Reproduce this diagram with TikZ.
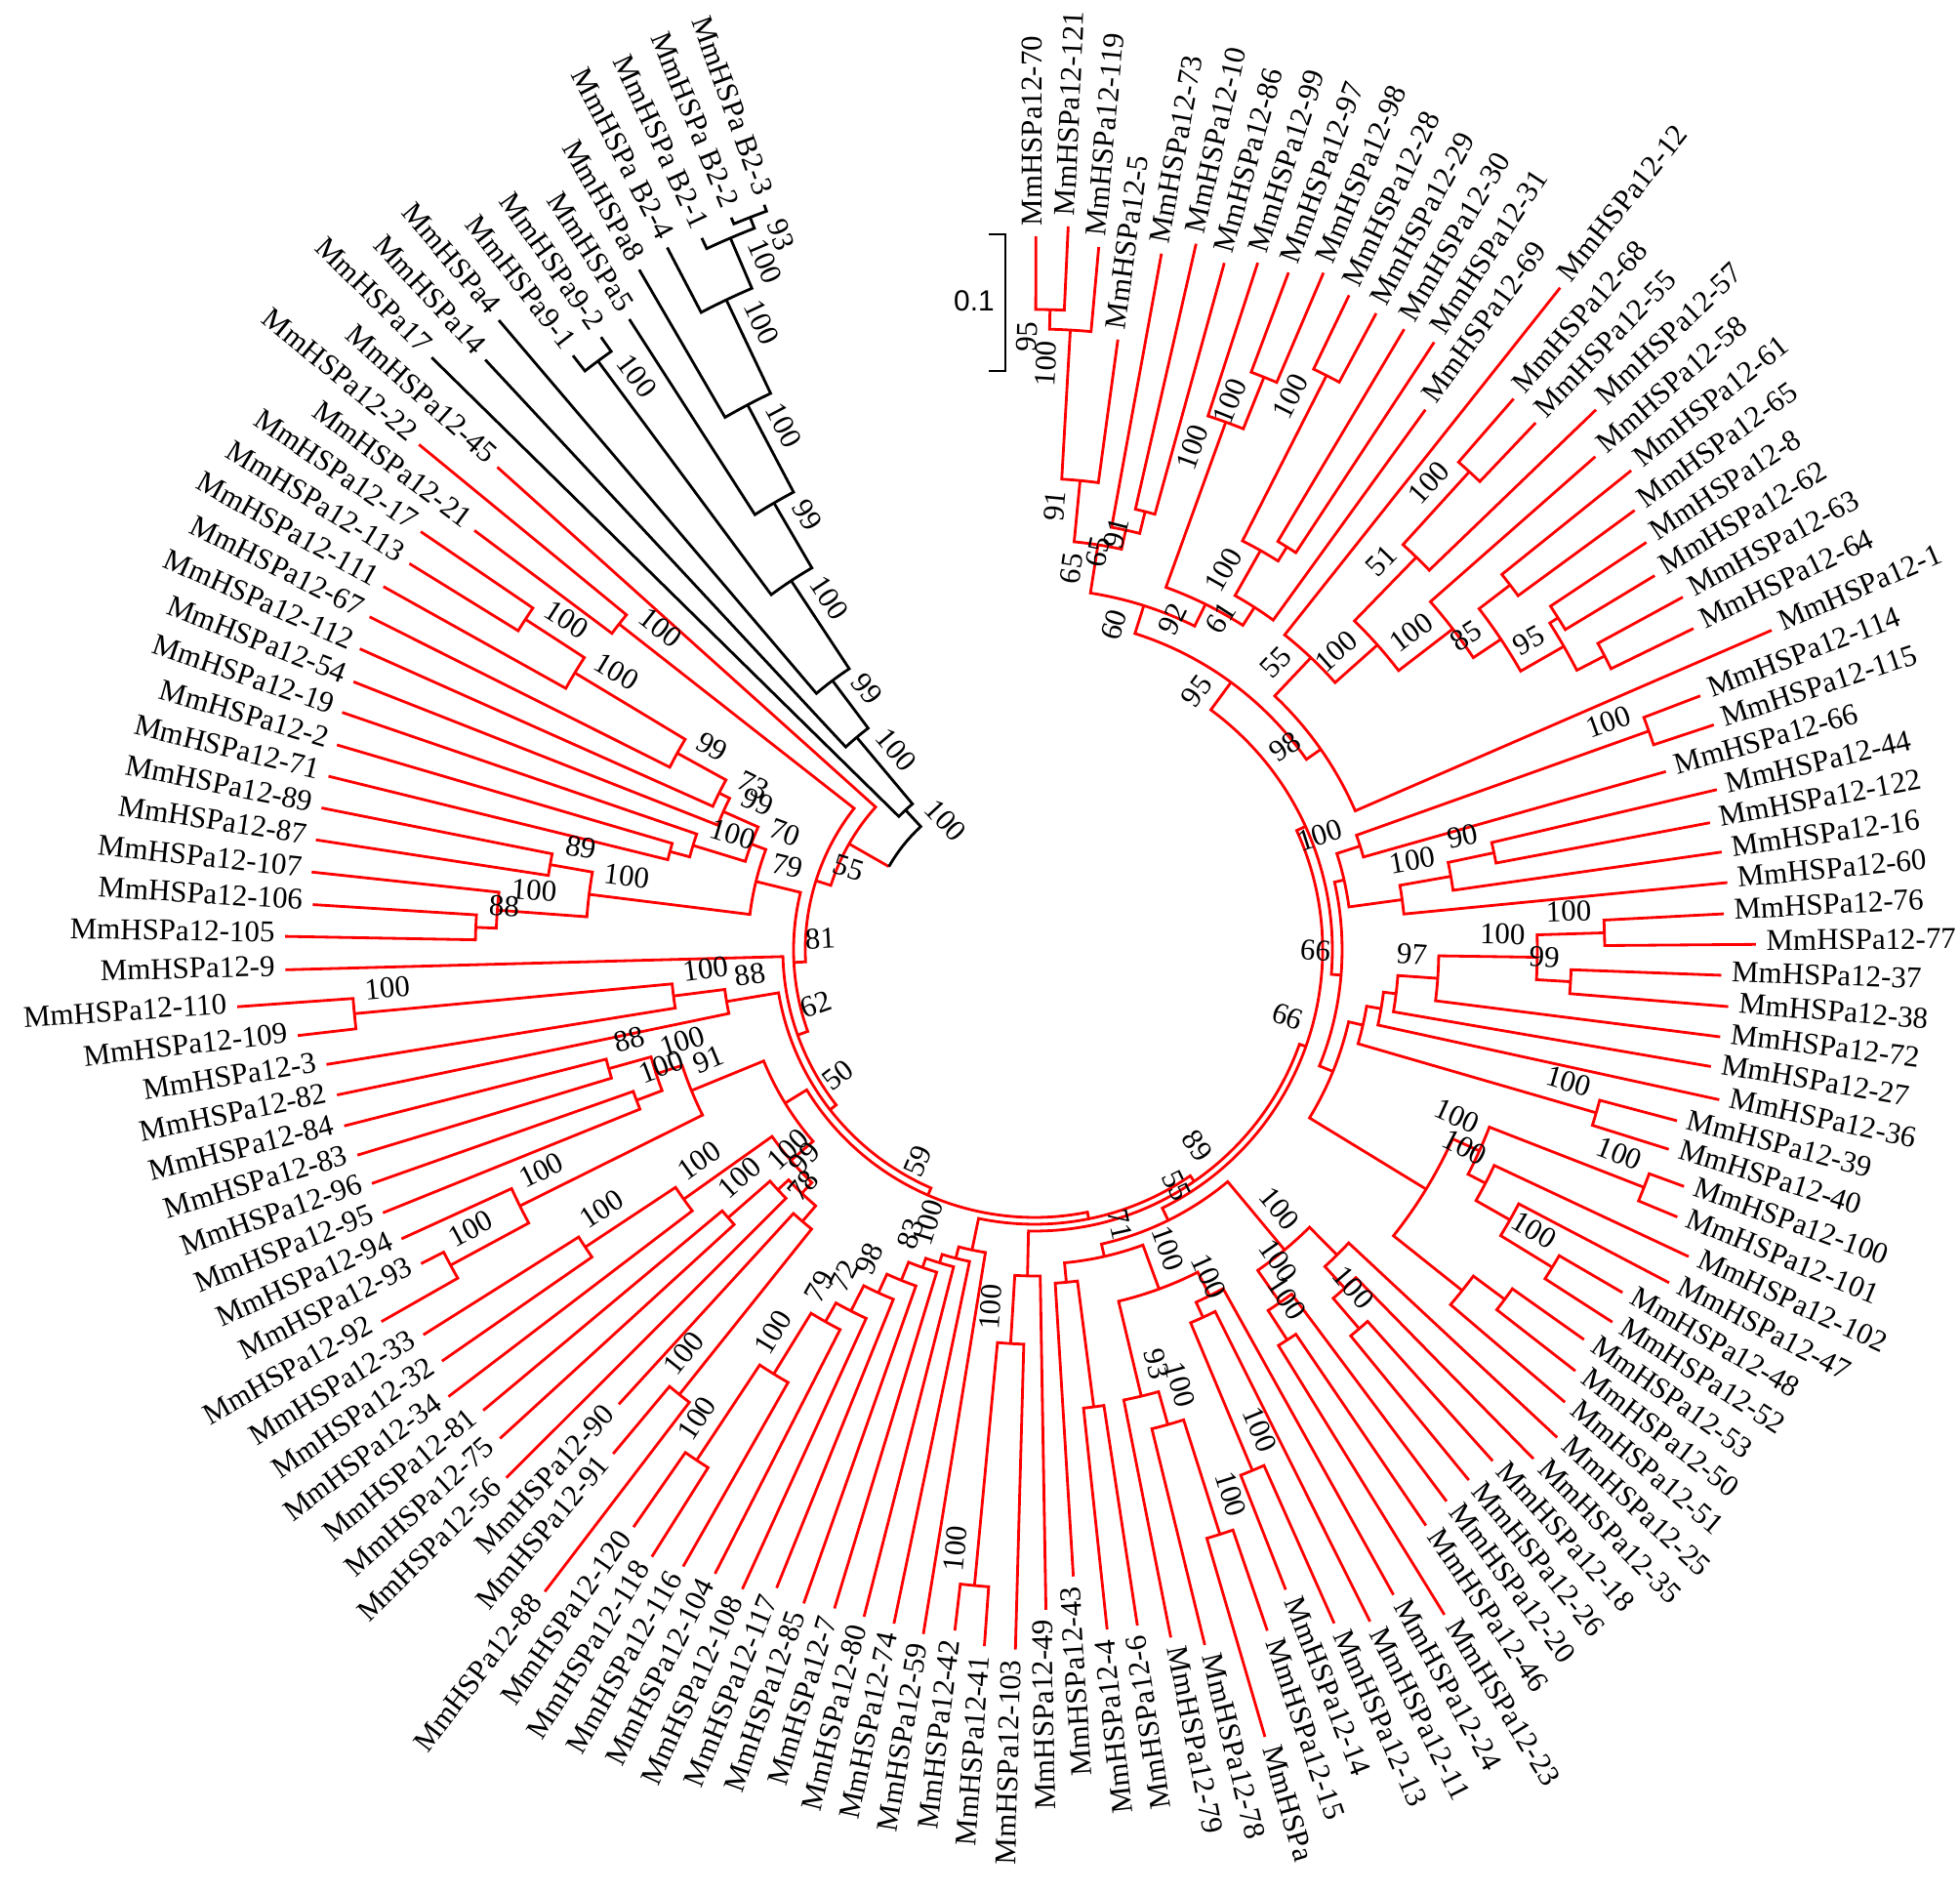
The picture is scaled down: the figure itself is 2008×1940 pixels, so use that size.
\documentclass[tikz,border=0pt]{standalone}
\usepackage{fontspec}
\setmainfont{Liberation Serif}
\newfontfamily\sbfont{Liberation Sans}
\def\stp{2.556}
\def\curA{89.9}
\def\brcol{red}
\newcommand\tleaf[3]{%
  \expandafter\xdef\csname A@#1\endcsname{\curA}%
  \expandafter\xdef\csname R@#1\endcsname{#2}%
  \coordinate (#1) at (\curA:#2);
  \pgfmathsetmacro\tzR{#2+10}%
  \ifdim\curA pt>-80pt
    \pgfmathsetmacro\tzP{\curA-90}%
    \path (\curA:\tzR) ++(\tzP:6) node[lbl,anchor=base west,rotate=\curA] (#1t) {#3};
  \else
    \pgfmathsetmacro\tzP{\curA+90}\pgfmathsetmacro\tzT{\curA+180}%
    \path (\curA:\tzR) ++(\tzP:6) node[lbl,anchor=base east,rotate=\tzT] (#1t) {#3};
  \fi
  \pgfmathsetmacro\curA{\curA-\stp}%
}
\newcommand\tlm[2]{\tleaf{L#1}{#2}{MmHSPa12-#1}}
\newcommand\tnode[4]{%
  \edef\tzA{\csname A@#3\endcsname}\edef\tzB{\csname A@#4\endcsname}%
  \pgfmathsetmacro\tzM{(\tzA+\tzB)/2}%
  \expandafter\xdef\csname A@#1\endcsname{\tzM}%
  \expandafter\xdef\csname R@#1\endcsname{#2}%
  \coordinate (#1) at (\tzM:#2);
  \draw[br,draw=\brcol] (#3) -- (\tzA:#2) arc[start angle=\tzA,end angle=\tzB,radius=#2] -- (#4);
}
\newcommand\tboot[2]{%
  \edef\tzA{\csname A@#1\endcsname}\edef\tzR{\csname R@#1\endcsname}%
  \pgfmathsetmacro\tzQ{\tzR-12}%
  \ifdim\tzA pt>-90pt
    \pgfmathsetmacro\tzP{\tzA+90}%
    \path (\tzA:\tzQ) ++(\tzP:12) node[bsl,anchor=south east,rotate=\tzA] (bs-#1) {#2};
  \else
    \pgfmathsetmacro\tzP{\tzA-90}\pgfmathsetmacro\tzT{\tzA+180}%
    \path (\tzA:\tzQ) ++(\tzP:12) node[bsl,anchor=south west,rotate=\tzT] (bs-#1) {#2};
  \fi}
\begin{document}
\begin{tikzpicture}[x=0.01cm,y=0.01cm,
  br/.style={line width=0.8pt},
  lbl/.style={inner sep=0pt,font=\fontsize{8.8}{10}\selectfont},
  bsl/.style={inner sep=0pt,font=\fontsize{8.8}{10}\selectfont}]
\useasboundingbox (-1060,-967) rectangle (948,973);
% ---------------- leaves (clockwise from top) ----------------
\tlm{70}{731}\tlm{121}{742}\tlm{119}{723}\tlm{5}{631}\tlm{73}{725}
\tlm{10}{742}\tlm{86}{730}\tlm{99}{740}\tlm{97}{741}\tlm{98}{754}
\tlm{28}{744}\tlm{29}{740}\tlm{30}{740}\tlm{31}{745}\tlm{69}{683}
\tlm{12}{866}\tlm{68}{748}\tlm{55}{745}\tlm{57}{798}\tlm{58}{765}
\tlm{61}{784}\tlm{65}{762}\tlm{8}{753}\tlm{62}{742}\tlm{63}{756}
\tlm{64}{751}\tlm{1}{823}\tlm{114}{730}\tlm{115}{733}\tlm{66}{672}
\tlm{44}{718}\tlm{122}{704}\tlm{16}{711}\tlm{60}{713}\tlm{76}{707}
\tlm{77}{739}\tlm{37}{704}\tlm{38}{713}\tlm{72}{708}\tlm{27}{703}
\tlm{36}{718}\tlm{39}{681}\tlm{40}{681}\tlm{100}{708}\tlm{101}{713}
\tlm{102}{740}\tlm{47}{734}\tlm{48}{697}\tlm{52}{704}\tlm{53}{690}
\tlm{50}{702}\tlm{51}{714}\tlm{25}{732}\tlm{35}{730}\tlm{18}{703}
\tlm{26}{702}\tlm{20}{705}\tlm{46}{713}\tlm{23}{800}\tlm{24}{756}
\tlm{11}{769}\tlm{13}{755}\tlm{14}{704}\tlm{15}{737}
\tleaf{LX}{840}{MmHSPa}
\tlm{78}{733}\tlm{79}{718}\tlm{6}{700}\tlm{4}{700}\tlm{43}{643}
\tlm{49}{676}\tlm{103}{717}\tlm{41}{715}\tlm{42}{702}\tlm{59}{710}
\tlm{74}{705}\tlm{80}{705}\tlm{7}{705}\tlm{85}{710}\tlm{117}{705}
\tlm{108}{720}\tlm{104}{718}\tlm{116}{727}\tlm{118}{735}\tlm{120}{720}
\tlm{88}{827}\tlm{91}{673}\tlm{90}{631}\tlm{56}{765}\tlm{75}{742}
\tlm{81}{736}\tlm{34}{755}\tlm{32}{739}\tlm{33}{740}\tlm{92}{770}
\tlm{93}{706}\tlm{94}{713}\tlm{95}{720}\tlm{96}{720}\tlm{83}{725}
\tlm{84}{730}\tlm{82}{730}\tlm{3}{735}\tlm{109}{760}\tlm{110}{819}
\tlm{9}{768}\tlm{105}{768}\tlm{106}{741}\tlm{107}{745}\tlm{87}{745}
\tlm{89}{745}\tlm{71}{745}\tlm{2}{745}\tlm{19}{750}\tlm{54}{750}
\tlm{112}{757}\tlm{67}{762}\tlm{111}{764}\tlm{113}{753}\tlm{17}{761}
\tlm{21}{717}\tlm{22}{816}\tlm{45}{740}
\tleaf{H17}{866}{MmHSPa17}
\tleaf{H14}{826}{MmHSPa14}
\tleaf{H4}{847}{MmHSPa4}
\tleaf{H91}{771}{MmHSPa9-1}
\tleaf{H92}{769}{MmHSPa9-2}
\tleaf{H5}{768}{MmHSPa5}
\tleaf{H8}{806}{MmHSPa8}
\tleaf{B4}{812}{MmHSPa B2-4}
\tleaf{B1}{805}{MmHSPa B2-1}
\tleaf{B2}{812}{MmHSPa B2-2}
\tleaf{B3}{812}{MmHSPa B2-3}
% ---------------- region A ----------------
\tnode{a1}{656}{L70}{L121}
\tnode{a2}{636}{a1}{L119}
\tnode{a3}{483}{a2}{L5}
\tnode{a4}{463}{L10}{L86}
\tnode{a5}{440}{L73}{a4}
\tnode{a6}{420}{a3}{a5}
\tnode{a7}{632}{L97}{L98}
\tnode{a8}{575}{L99}{a7}
\tnode{a9}{660}{L28}{L29}
\tnode{a10}{487}{L30}{L31}
\tnode{a11}{470}{a9}{a10}
\tnode{a12}{417}{a11}{L69}
\tnode{a13}{395}{a8}{a12}
\tnode{a14}{370}{a6}{a13}
% ---------------- region B ----------------
\tnode{b1}{662}{L68}{L55}
\tnode{b2}{561}{b1}{L57}
\tnode{b3}{614}{L61}{L65}
\tnode{b4}{635}{L8}{L62}
\tnode{b5}{657}{L63}{L64}
\tnode{b6}{625}{b4}{b5}
\tnode{b7}{574}{b3}{b6}
\tnode{b8}{540}{L58}{b7}
\tnode{b9}{470}{b2}{b8}
\tnode{b10}{412}{L12}{b9}
\tnode{b11}{358}{b10}{L1}
\tnode{ab}{340}{a14}{b11}
% ---------------- region C ----------------
\tnode{c1}{668}{L114}{L115}
\tnode{c2}{350}{c1}{L66}
\tnode{c3}{481}{L44}{L122}
\tnode{c4}{433}{c3}{L16}
\tnode{c5}{380}{c4}{L60}
\tnode{c6}{325}{c2}{c5}
\tnode{c7}{584}{L76}{L77}
\tnode{c8}{550}{L37}{L38}
\tnode{c9}{515}{c7}{c8}
\tnode{c10}{414}{c9}{L72}
\tnode{c11}{373}{c10}{L27}
\tnode{c12}{360}{c11}{L36}
\tnode{c13}{599}{L39}{L40}
\tnode{c14}{345}{c12}{c13}
\tnode{c15}{670}{L100}{L101}
\tnode{c16}{622}{L48}{L52}
\tnode{c17}{560}{L47}{c16}
\tnode{c18}{520}{L102}{c17}
\tnode{c19}{500}{c15}{c18}
\tnode{c20}{600}{L53}{L50}
\tnode{c21}{560}{c20}{L51}
\tnode{c22}{470}{c19}{c21}
\tnode{c23}{330}{c14}{c22}
\tnode{c24}{315}{c6}{c23}
\tnode{abc}{305}{ab}{c24}
% ---------------- region D / E ----------------
\tnode{d1}{511}{L18}{L26}
\tnode{d2}{470}{L35}{d1}
\tnode{d3}{440}{L25}{d2}
\tnode{d4}{476}{L46}{L23}
\tnode{d5}{440}{L20}{d4}
\tnode{d6}{400}{d3}{d5}
\tnode{d7}{578}{L13}{L14}
\tnode{d8}{414}{L11}{d7}
\tnode{d9}{397}{L24}{d8}
\tnode{d10}{628}{L15}{LX}
\tnode{d11}{505}{d10}{L78}
\tnode{d12}{470}{d11}{L79}
\tnode{d13}{370}{d9}{d12}
\tnode{d14}{472}{L6}{L4}
\tnode{d15}{342}{d14}{L43}
\tnode{d16}{322}{d13}{d15}
\tnode{d17}{309}{d6}{d16}
\tnode{e1}{654}{L41}{L42}
\tnode{e2}{404}{L103}{e1}
\tnode{e3}{334}{L49}{e2}
\tnode{Y1}{295}{abc}{d17}
\tnode{Y2}{288}{Y1}{e3}
% ---------------- region F ----------------
\tnode{f6}{627}{L118}{L120}
\tnode{f7}{510}{L116}{f6}
\tnode{f8}{437}{L104}{f7}
\tnode{f9}{415}{L108}{f8}
\tnode{f10}{386}{L117}{f9}
\tnode{f11}{365}{L85}{f10}
\tnode{f12}{345}{L7}{f11}
\tnode{f13}{335}{L80}{f12}
\tnode{f14}{326}{L74}{f13}
\tnode{f15}{314}{L59}{f14}
\tnode{Y3}{281}{Y2}{f15}
% ---------------- region G ----------------
\tnode{g1}{583}{L88}{L91}
\tnode{g2}{366}{g1}{L90}
\tnode{g3}{417}{L75}{L81}
\tnode{g4}{360}{L56}{g3}
\tnode{g5}{345}{g2}{g4}
\tnode{g6}{552}{L32}{L33}
\tnode{g7}{441}{L34}{g6}
\tnode{g8}{330}{g5}{g7}
\tnode{g9}{680}{L92}{L93}
\tnode{g10}{589}{g9}{L94}
\tnode{g11}{436}{L95}{L96}
\tnode{g12}{453}{L83}{L84}
\tnode{g13}{408}{g11}{g12}
\tnode{g14}{380}{g10}{g13}
\tnode{g15}{300}{g8}{g14}
\tnode{Y4}{274}{Y3}{g15}
% ---------------- region H ----------------
\tnode{h1}{700}{L109}{L110}
\tnode{h2}{373}{L3}{h1}
\tnode{h3}{320}{L82}{h2}
\tnode{Y5}{266}{Y4}{h3}
\tnode{Y6}{258}{Y5}{L9}
% ---------------- region L ----------------
\tnode{l1}{573}{L105}{L106}
\tnode{l2}{552}{l1}{L107}
\tnode{l3}{504}{L87}{L89}
\tnode{l4}{460}{l2}{l3}
\tnode{l5}{387}{L71}{L2}
\tnode{l6}{366}{l5}{L19}
\tnode{l7}{622}{L113}{L17}
\tnode{l8}{550}{L111}{l7}
\tnode{l9}{418}{L67}{l8}
\tnode{l10}{361}{L112}{l9}
\tnode{l11}{349}{L54}{l10}
\tnode{l12}{310}{l6}{l11}
\tnode{l13}{294}{l4}{l12}
\tnode{Y7}{247}{Y6}{l13}
\tnode{p2122}{541}{L21}{L22}
\tnode{Y8}{235}{Y7}{p2122}
\tnode{R0}{219}{Y8}{L45}
% ---------------- outgroup (black) ----------------
\def\brcol{black}
\tnode{k1}{805}{B2}{B3}
\tnode{k2}{793}{B1}{k1}
\tnode{k3}{737}{B4}{k2}
\tnode{k4}{631}{H8}{k3}
\tnode{k5}{530}{H5}{k4}
\tnode{p9}{751}{H91}{H92}
\tnode{k6}{453}{p9}{k5}
\tnode{k7}{345}{H4}{k6}
\tnode{k8}{284}{H14}{k7}
\tnode{k9}{195}{H17}{k8}
\edef\tzA{\csname A@R0\endcsname}\edef\tzB{\csname A@k9\endcsname}
\pgfmathsetmacro\tzM{(\tzA+\tzB)/2}
\coordinate (root) at (\tzM:172);
\draw[br,draw=red] (R0) -- (\tzA:172);
\draw[br,draw=black] (\tzA:172) arc[start angle=\tzA,end angle=\tzB,radius=172] -- (k9);
% ---------------- bootstrap values ----------------
\tboot{a1}{95}\tboot{a2}{100}\tboot{a3}{91}\tboot{a4}{91}\tboot{a5}{65}\tboot{a6}{65}
\tboot{a7}{100}\tboot{a8}{100}\tboot{a9}{100}\tboot{a11}{100}\tboot{a12}{61}\tboot{a13}{92}\tboot{a14}{60}
\tboot{b1}{100}\tboot{b2}{51}\tboot{b6}{95}\tboot{b7}{85}\tboot{b8}{100}\tboot{b9}{100}\tboot{b10}{55}\tboot{b11}{98}\tboot{ab}{95}
\tboot{c1}{100}\tboot{c2}{100}\tboot{c3}{90}\tboot{c4}{100}\tboot{c7}{100}\tboot{c8}{99}\tboot{c9}{100}\tboot{c10}{97}
\tboot{c13}{100}\tboot{c15}{100}\tboot{c16}{100}\tboot{c18}{100}\tboot{c19}{100}\tboot{c24}{66}\tboot{Y1}{66}
\tboot{d1}{100}\tboot{d4}{100}\tboot{d5}{100}\tboot{d6}{100}\tboot{d7}{100}\tboot{d8}{100}\tboot{d10}{100}
\tboot{d11}{100}\tboot{d12}{93}\tboot{d13}{100}\tboot{d16}{71}\tboot{d17}{55}
\tboot{e1}{100}\tboot{e2}{100}\tboot{Y2}{89}
\tboot{f6}{100}\tboot{f7}{100}\tboot{f8}{79}\tboot{f9}{72}\tboot{f10}{98}\tboot{f12}{83}\tboot{f13}{100}
\tboot{g1}{100}\tboot{g2}{78}\tboot{g3}{100}\tboot{g4}{100}\tboot{g5}{99}\tboot{g6}{100}\tboot{g7}{100}
\tboot{g9}{100}\tboot{g10}{100}\tboot{g11}{100}\tboot{g12}{88}\tboot{g13}{100}\tboot{g14}{91}\tboot{Y4}{59}\tboot{Y5}{50}
\tboot{h1}{100}\tboot{h2}{100}\tboot{h3}{88}\tboot{Y6}{62}
\tboot{l1}{88}\tboot{l2}{100}\tboot{l3}{89}\tboot{l4}{100}\tboot{l6}{100}\tboot{l7}{100}\tboot{l8}{100}
\tboot{l9}{99}\tboot{l10}{73}\tboot{l11}{99}\tboot{l12}{70}\tboot{l13}{79}\tboot{Y7}{81}\tboot{Y8}{55}\tboot{p2122}{100}
\tboot{k1}{93}\tboot{k2}{100}\tboot{k3}{100}\tboot{k4}{100}\tboot{k5}{99}\tboot{p9}{100}
\tboot{k6}{100}\tboot{k7}{99}\tboot{k8}{100}\tboot{k9}{100}
% ---------------- scale bar ----------------
\coordinate (sbT) at (-30,733);
\coordinate (sbB) at (-30,593);
\draw[line width=0.8pt] (-47,733) -- (sbT) -- (sbB) -- (-47,593);
\node[inner sep=0pt,font=\sbfont\fontsize{8.5}{10}\selectfont] (sb) at (-62,665) {0.1};
\end{tikzpicture}
\end{document}
